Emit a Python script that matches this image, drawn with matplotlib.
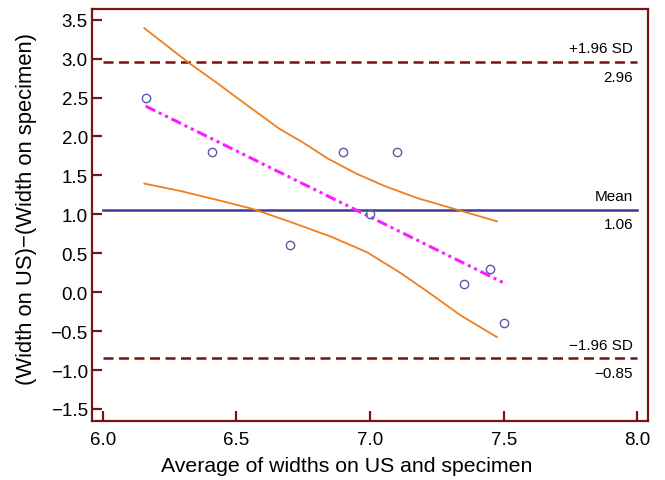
import matplotlib
matplotlib.use("Agg")
import matplotlib.pyplot as plt

plt.rcParams["font.family"] = ["Liberation Sans", "DejaVu Sans"]

# observed points: average of widths vs. difference
avg_width = [6.16, 6.41, 6.70, 6.90, 7.00, 7.10, 7.35, 7.45, 7.50]
diff_width = [2.5, 1.8, 0.6, 1.8, 1.0, 1.8, 0.1, 0.3, -0.4]

# regression line
reg_x = [6.16, 7.50]
reg_y = [2.39, 0.12]

# confidence band curves
upper_x = [6.155, 6.32, 6.43, 6.54, 6.66, 6.75, 6.84, 6.95, 7.05, 7.175, 7.31, 7.475]
upper_y = [3.39, 2.95, 2.68, 2.40, 2.10, 1.92, 1.72, 1.52, 1.37, 1.21, 1.075, 0.91]
lower_x = [6.155, 6.29, 6.44, 6.56, 6.70, 6.86, 6.99, 7.11, 7.21, 7.34, 7.475]
lower_y = [1.395, 1.30, 1.175, 1.07, 0.905, 0.705, 0.51, 0.256, 0.02, -0.30, -0.577]

mean_diff = 1.06
upper_loa = 2.96
lower_loa = -0.85

spine_col = "#7a1414"
loa_col = "#7a1010"
mean_col = "#3b3b9c"
point_col = "#5a5aa8"
orange = "#f07d1e"
magenta = "#ff1cff"

fig = plt.figure(figsize=(6.65, 4.81), dpi=100)
ax = fig.add_axes([0.1383, 0.1227, 0.836, 0.8565])

ax.plot([6.0, 8.0], [upper_loa, upper_loa], color=loa_col, lw=1.8, dashes=(4, 2.2))
ax.plot([6.0, 8.0], [lower_loa, lower_loa], color=loa_col, lw=1.8, dashes=(4, 2.2))
ax.plot([6.0, 8.0], [mean_diff, mean_diff], color=mean_col, lw=1.8)

ax.plot(upper_x, upper_y, color=orange, lw=1.3)
ax.plot(lower_x, lower_y, color=orange, lw=1.3)
ax.plot(reg_x, reg_y, color=magenta, lw=2.2, dashes=(3.5, 1.3, 1, 1.3, 1, 1.3))

ax.plot(avg_width, diff_width, "o", mfc="none", mec=point_col, ms=6, mew=1.0)

# labels of the horizontal lines
tx = 7.985
fs = 11
ax.text(tx, upper_loa + 0.08, "+1.96 SD", ha="right", va="bottom", fontsize=fs)
ax.text(tx, upper_loa - 0.1, "2.96", ha="right", va="top", fontsize=fs)
ax.text(tx, mean_diff + 0.08, "Mean", ha="right", va="bottom", fontsize=fs)
ax.text(tx, mean_diff - 0.1, "1.06", ha="right", va="top", fontsize=fs)
ax.text(tx, lower_loa + 0.08, "\u22121.96 SD", ha="right", va="bottom", fontsize=fs)
ax.text(tx, lower_loa - 0.1, "\u22120.85", ha="right", va="top", fontsize=fs)

ax.set_xlim(5.959, 8.04)
ax.set_ylim(-1.654, 3.637)
ax.set_xticks([6.0, 6.5, 7.0, 7.5, 8.0])
ax.set_yticks([-1.5, -1.0, -0.5, 0.0, 0.5, 1.0, 1.5, 2.0, 2.5, 3.0, 3.5])
ax.set_xticklabels(["6.0", "6.5", "7.0", "7.5", "8.0"])
ax.set_yticklabels(["\u22121.5", "\u22121.0", "\u22120.5", "0.0", "0.5", "1.0",
                    "1.5", "2.0", "2.5", "3.0", "3.5"])

for s in ax.spines.values():
    s.set_color(spine_col)
    s.set_linewidth(1.6)

ax.tick_params(axis="x", direction="in", length=7, width=1.6, color=spine_col,
               labelsize=13.5, pad=7)
ax.tick_params(axis="y", direction="in", length=7, width=1.6, color=spine_col,
               labelsize=13.5, pad=3)

ax.set_xlabel("Average of widths on US and specimen", fontsize=15.3)
ax.set_ylabel("(Width on US)\u2212(Width on specimen)", fontsize=15.8)
ax.xaxis.set_label_coords(0.459, -0.085)
ax.yaxis.set_label_coords(-0.099, 0.516)

fig.savefig("out.png", dpi=100)
